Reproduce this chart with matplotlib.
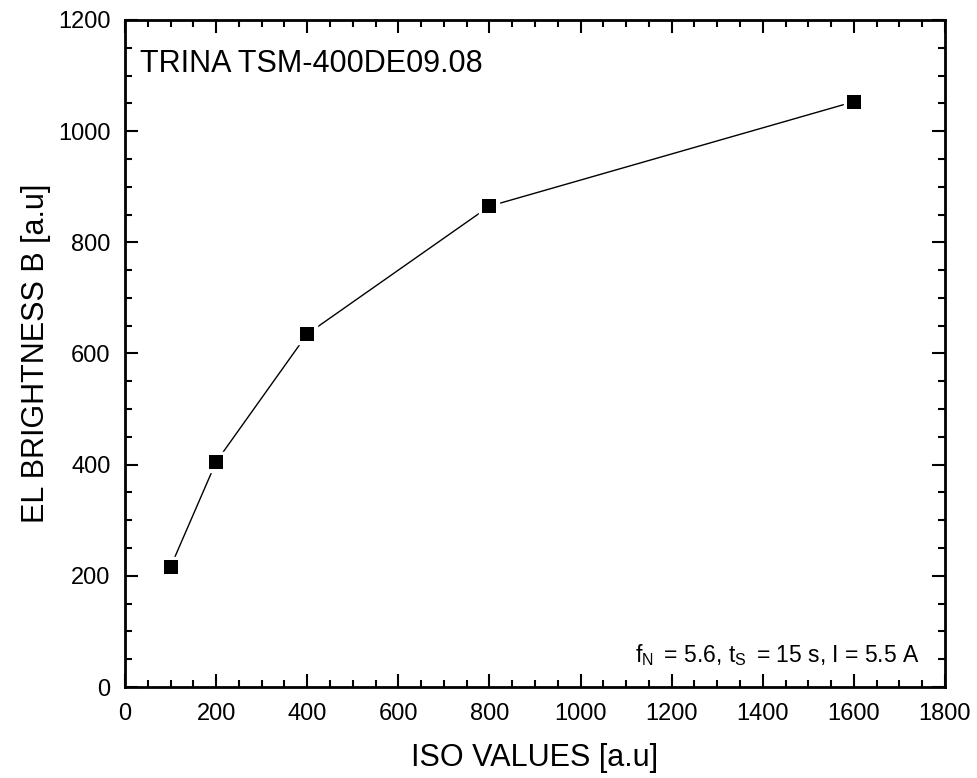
import matplotlib
matplotlib.use("Agg")
import matplotlib.pyplot as plt
from matplotlib.ticker import MultipleLocator

iso = [100, 200, 400, 800, 1600]
brightness = [216, 405, 635, 865, 1053]

plt.rcParams['font.family'] = ['Liberation Sans', 'DejaVu Sans']

fig = plt.figure(figsize=(9.77, 7.78), dpi=100)
ax = fig.add_axes([125 / 977, 91 / 778, 820 / 977, 667 / 778])

ax.plot(iso, brightness, color='black', lw=1.0, zorder=2)
ax.plot(iso, brightness, ls='none', marker='s', markersize=10,
        markerfacecolor='black', markeredgecolor='white', markeredgewidth=0,
        zorder=4)
# white halo around markers to leave a small gap to the connecting line
ax.plot(iso, brightness, ls='none', marker='s', markersize=14,
        markerfacecolor='white', markeredgecolor='white', zorder=3)

ax.set_xlim(0, 1800)
ax.set_ylim(0, 1200)
ax.xaxis.set_major_locator(MultipleLocator(200))
ax.xaxis.set_minor_locator(MultipleLocator(50))
ax.yaxis.set_major_locator(MultipleLocator(200))
ax.yaxis.set_minor_locator(MultipleLocator(50))
ax.tick_params(which='both', direction='in', top=True, right=True, width=1.5)
ax.tick_params(which='major', length=9.5, labelsize=17)
ax.tick_params(axis='x', which='major', pad=11.5)
ax.tick_params(axis='y', which='major', pad=10.5)
ax.tick_params(which='minor', length=5)
for s in ax.spines.values():
    s.set_linewidth(2.0)

ax.set_xlabel('ISO VALUES [a.u]', fontsize=22, labelpad=13)
ax.set_ylabel('EL BRIGHTNESS B [a.u]', fontsize=22, labelpad=5)

ax.text(0.018, 0.922, 'TRINA TSM-400DE09.08', transform=ax.transAxes,
        fontsize=22, va='baseline', ha='left')
ax.text(0.9695, 0.0375,
        r'f$_\mathregular{N}\,$ = 5.6, t$_\mathregular{S}\,$ = 15 s, I = 5.5 A',
        transform=ax.transAxes, fontsize=16.5, va='baseline', ha='right')

fig.savefig('out.png', dpi=100)
